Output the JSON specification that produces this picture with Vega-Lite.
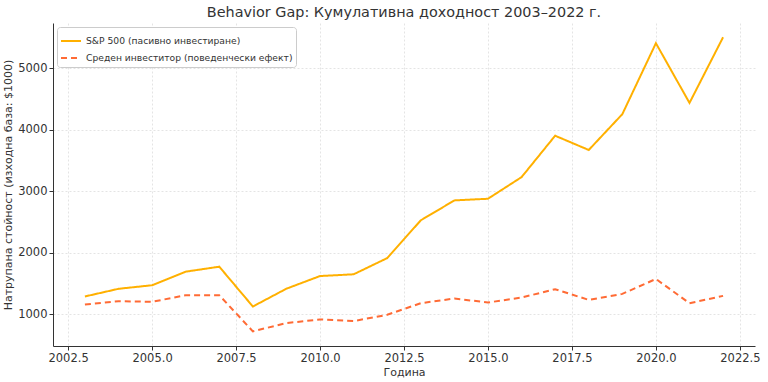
{
  "$schema": "https://vega.github.io/schema/vega-lite/v6.json",
  "width": 768,
  "height": 382,
  "autosize": {"type": "fit", "contains": "padding"},
  "padding": {"left": 2, "right": 9, "top": 4, "bottom": 4},
  "background": "white",
  "config": {
    "font": "DejaVu Sans",
    "view": {"stroke": null},
    "axis": {
      "labelFont": "DejaVu Sans",
      "titleFont": "DejaVu Sans",
      "labelFontSize": 11.5,
      "titleFontSize": 11,
      "titleFontWeight": "normal",
      "labelColor": "#333333",
      "titleColor": "#333333",
      "domainColor": "#333333",
      "tickColor": "#333333",
      "tickSize": 4,
      "labelPadding": 2,
      "gridColor": "#dddddd",
      "gridDash": [2, 2],
      "gridWidth": 0.8
    }
  },
  "title": {
    "text": "Behavior Gap: Кумулативна доходност 2003–2022 г.",
    "font": "DejaVu Sans",
    "fontSize": 14.4,
    "fontWeight": "normal",
    "color": "#333333",
    "offset": 3
  },
  "data": {
    "values": [
      {"year": 2003, "series": "S&P 500 (пасивно инвестиране)", "value": 1287},
      {"year": 2004, "series": "S&P 500 (пасивно инвестиране)", "value": 1412},
      {"year": 2005, "series": "S&P 500 (пасивно инвестиране)", "value": 1470},
      {"year": 2006, "series": "S&P 500 (пасивно инвестиране)", "value": 1691},
      {"year": 2007, "series": "S&P 500 (пасивно инвестиране)", "value": 1772},
      {"year": 2008, "series": "S&P 500 (пасивно инвестиране)", "value": 1124},
      {"year": 2009, "series": "S&P 500 (пасивно инвестиране)", "value": 1414},
      {"year": 2010, "series": "S&P 500 (пасивно инвестиране)", "value": 1620},
      {"year": 2011, "series": "S&P 500 (пасивно инвестиране)", "value": 1648},
      {"year": 2012, "series": "S&P 500 (пасивно инвестиране)", "value": 1912},
      {"year": 2013, "series": "S&P 500 (пасивно инвестиране)", "value": 2527},
      {"year": 2014, "series": "S&P 500 (пасивно инвестиране)", "value": 2851},
      {"year": 2015, "series": "S&P 500 (пасивно инвестиране)", "value": 2878},
      {"year": 2016, "series": "S&P 500 (пасивно инвестиране)", "value": 3230},
      {"year": 2017, "series": "S&P 500 (пасивно инвестиране)", "value": 3904},
      {"year": 2018, "series": "S&P 500 (пасивно инвестиране)", "value": 3672},
      {"year": 2019, "series": "S&P 500 (пасивно инвестиране)", "value": 4255},
      {"year": 2020, "series": "S&P 500 (пасивно инвестиране)", "value": 5410},
      {"year": 2021, "series": "S&P 500 (пасивно инвестиране)", "value": 4438},
      {"year": 2022, "series": "S&P 500 (пасивно инвестиране)", "value": 5507},
      {"year": 2003, "series": "Среден инвеститор (поведенчески ефект)", "value": 1157},
      {"year": 2004, "series": "Среден инвеститор (поведенчески ефект)", "value": 1210},
      {"year": 2005, "series": "Среден инвеститор (поведенчески ефект)", "value": 1200},
      {"year": 2006, "series": "Среден инвеститор (поведенчески ефект)", "value": 1308},
      {"year": 2007, "series": "Среден инвеститор (поведенчески ефект)", "value": 1308},
      {"year": 2008, "series": "Среден инвеститор (поведенчески ефект)", "value": 720},
      {"year": 2009, "series": "Среден инвеститор (поведенчески ефект)", "value": 854},
      {"year": 2010, "series": "Среден инвеститор (поведенчески ефект)", "value": 913},
      {"year": 2011, "series": "Среден инвеститор (поведенчески ефект)", "value": 887},
      {"year": 2012, "series": "Среден инвеститор (поведенчески ефект)", "value": 989},
      {"year": 2013, "series": "Среден инвеститор (поведенчески ефект)", "value": 1178},
      {"year": 2014, "series": "Среден инвеститор (поведенчески ефект)", "value": 1254},
      {"year": 2015, "series": "Среден инвеститор (поведенчески ефект)", "value": 1189},
      {"year": 2016, "series": "Среден инвеститор (поведенчески ефект)", "value": 1270},
      {"year": 2017, "series": "Среден инвеститор (поведенчески ефект)", "value": 1405},
      {"year": 2018, "series": "Среден инвеститор (поведенчески ефект)", "value": 1232},
      {"year": 2019, "series": "Среден инвеститор (поведенчески ефект)", "value": 1329},
      {"year": 2020, "series": "Среден инвеститор (поведенчески ефект)", "value": 1572},
      {"year": 2021, "series": "Среден инвеститор (поведенчески ефект)", "value": 1178},
      {"year": 2022, "series": "Среден инвеститор (поведенчески ефект)", "value": 1297}
    ]
  },
  "mark": {"type": "line", "strokeWidth": 2},
  "encoding": {
    "x": {
      "field": "year",
      "type": "quantitative",
      "title": "Година",
      "scale": {"domain": [2002.05, 2022.95], "nice": false, "zero": false},
      "axis": {"values": [2002.5, 2005, 2007.5, 2010, 2012.5, 2015, 2017.5, 2020, 2022.5], "format": ".1f", "labelFlush": false, "titlePadding": 3}
    },
    "y": {
      "field": "value",
      "type": "quantitative",
      "title": "Натрупана стойност (изходна база: $1000)",
      "scale": {"domain": [481, 5739], "nice": false, "zero": false},
      "axis": {"values": [1000, 2000, 3000, 4000, 5000], "format": "d", "titlePadding": 4}
    },
    "color": {
      "field": "series",
      "type": "nominal",
      "title": null,
      "scale": {
        "domain": ["S&P 500 (пасивно инвестиране)", "Среден инвеститор (поведенчески ефект)"],
        "range": ["#FFB000", "#FF6B35"]
      },
      "legend": {
        "orient": "top-left",
        "offset": 4,
        "padding": 3,
        "strokeColor": "#cccccc",
        "fillColor": "white",
        "cornerRadius": 3,
        "symbolType": "stroke",
        "symbolSize": 400,
        "symbolStrokeWidth": 2,
        "labelFont": "DejaVu Sans",
        "labelFontSize": 9.2,
        "labelLimit": 0,
        "labelColor": "#333333",
        "rowPadding": -6
      }
    },
    "strokeDash": {
      "field": "series",
      "type": "nominal",
      "scale": {
        "domain": ["S&P 500 (пасивно инвестиране)", "Среден инвеститор (поведенчески ефект)"],
        "range": [[1, 0], [6, 4]]
      },
      "legend": null
    }
  }
}
